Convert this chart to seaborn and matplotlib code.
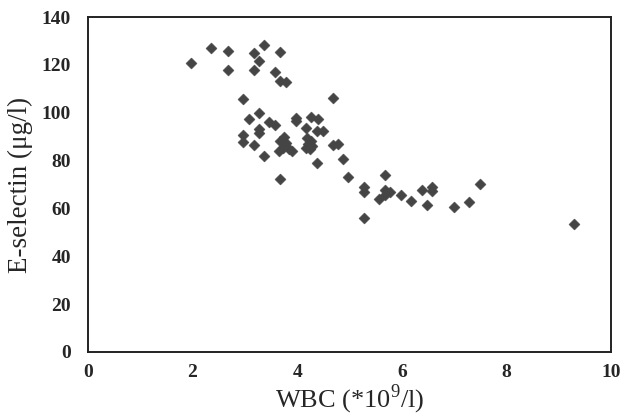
import matplotlib
matplotlib.use("Agg")
import matplotlib.pyplot as plt
import seaborn as sns
import pandas as pd

# WBC (*10^9/l) vs E-selectin (ug/l)
wbc = [1.97, 2.36, 2.67, 2.67, 3.17, 3.37, 3.27, 3.17, 3.67, 3.57,
       3.67, 3.78, 2.97, 4.68, 3.27, 3.07, 3.47, 3.57, 3.97, 3.97,
       4.26, 4.39, 3.27, 3.27, 4.17, 4.38, 4.49, 2.97, 2.97, 3.17,
       3.75, 3.67, 3.78, 3.72, 3.84, 3.91, 3.65, 4.18, 4.26, 4.21,
       4.17, 4.29, 4.25, 4.68, 4.78, 3.37, 4.38, 4.88, 3.67, 4.98,
       5.27, 5.27, 5.27, 5.68, 5.68, 5.57, 5.68, 5.78, 5.98, 6.18,
       6.39, 6.58, 6.58, 6.48, 6.99, 7.29, 7.49, 9.29]
esel = [121.0, 127.0, 126.0, 118.0, 125.0, 128.5, 121.5, 118.0, 125.5, 117.0,
        113.3, 112.8, 105.8, 106.0, 99.8, 97.4, 96.2, 95.0, 98.0, 96.5,
        98.4, 97.2, 93.4, 91.5, 93.6, 92.2, 92.4, 90.7, 87.8, 86.7,
        90.0, 88.2, 87.4, 85.4, 84.7, 84.0, 84.0, 89.5, 88.0, 86.8,
        85.4, 86.0, 84.7, 86.5, 87.1, 82.0, 79.0, 80.8, 72.4, 73.0,
        69.0, 67.0, 56.0, 73.9, 67.9, 64.1, 65.8, 66.9, 65.5, 63.3,
        67.6, 69.0, 67.2, 61.3, 60.6, 62.6, 70.3, 53.6]

x_ticks = [0, 2, 4, 6, 8, 10]
y_ticks = [0, 20, 40, 60, 80, 100, 120, 140]

df = pd.DataFrame({"wbc": wbc, "esel": esel})

sns.set_style("white")
plt.rcParams['font.family'] = ['Liberation Serif', 'DejaVu Serif']
plt.rcParams['mathtext.fontset'] = 'custom'
plt.rcParams['mathtext.rm'] = 'Liberation Serif'

fig = plt.figure(figsize=(6.23, 4.18), dpi=100)
ax = fig.add_axes([0.141, 0.158, 0.840, 0.801])

sns.scatterplot(data=df, x="wbc", y="esel", marker="D", s=32,
                color="#454545", edgecolor="#454545", linewidth=0.3, ax=ax)

ax.set_xlim(0, 10)
ax.set_ylim(0, 140)
ax.set_xticks(x_ticks)
ax.set_yticks(y_ticks)
ax.set_xticklabels([str(t) for t in x_ticks], fontsize=14, fontweight="bold")
ax.set_yticklabels([str(t) for t in y_ticks], fontsize=14, fontweight="bold")
ax.tick_params(axis="y", direction="in", length=5, width=1.3, color="#222222",
               right=False, pad=12)
ax.tick_params(axis="x", direction="in", length=5, width=1.3, color="#222222",
               top=False, pad=9)
ax.set_xlabel("WBC (*10$^{\\mathrm{9}}$/l)", fontsize=19, labelpad=1)
ax.set_ylabel("E-selectin (\u03bcg/l)", fontsize=19.5, labelpad=6)

for sp in ax.spines.values():
    sp.set_visible(True)
    sp.set_color("#222222")
    sp.set_linewidth(1.4)

fig.savefig("out.png", dpi=100)
